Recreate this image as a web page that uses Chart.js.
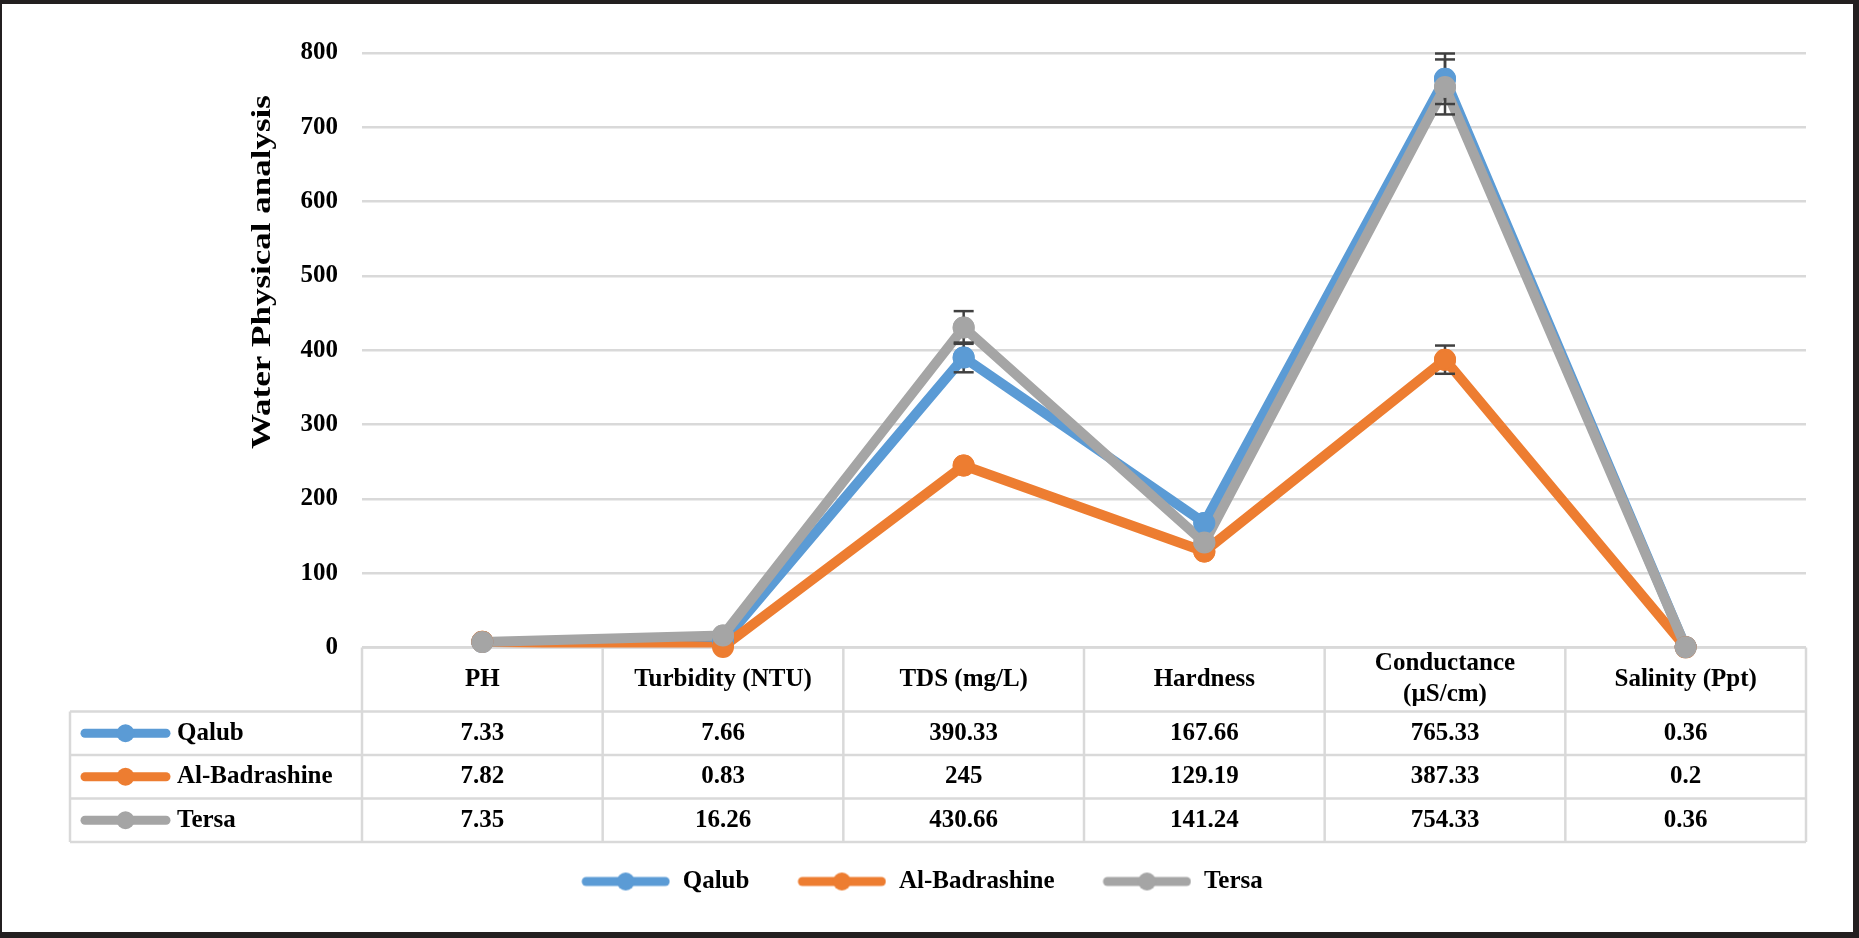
<!DOCTYPE html>
<html>
<head>
<meta charset="utf-8">
<script src="https://cdn.jsdelivr.net/npm/chart.js@4.4.0/dist/chart.umd.min.js"></script>
<style>
    body { margin: 0; background: #fff; }
    canvas { display: block; }
</style>
</head>
<body>
<canvas id="waterChart" width="1859" height="938"></canvas>
<script>
// Categories (x axis) and series values
const categories = ["PH", "Turbidity (NTU)", "TDS (mg/L)", "Hardness", ["Conductance", "(µS/cm)"], "Salinity (Ppt)"];
const seriesNames = ["Qalub", "Al-Badrashine", "Tersa"];
const qalubValues = [7.33, 7.66, 390.33, 167.66, 765.33, 0.36];
const badrashineValues = [7.82, 0.83, 245, 129.19, 387.33, 0.2];
const tersaValues = [7.35, 16.26, 430.66, 141.24, 754.33, 0.36];

// Error bars (+/-); 0 = not visible
const qalubErrors = [0, 0, 20, 0, 34, 0];
const badrashineErrors = [0, 0, 0, 0, 19, 0];
const tersaErrors = [0, 0, 22, 0, 37, 0];

const yTicks = [0, 100, 200, 300, 400, 500, 600, 700, 800];
const yTitle = "Water Physical analysis";

const seriesValues = [qalubValues, badrashineValues, tersaValues];
const seriesErrors = [qalubErrors, badrashineErrors, tersaErrors];
const seriesColors = ["#5B9BD5", "#ED7D31", "#A5A5A5"];

const FONT = '"Times New Roman", "Liberation Serif", serif';
const GRID = "#D9D9D9";

// Little line + dot picture, used as legend key
function makeKey(color, margin) {
    const w = 89, h = 24;
    const c = document.createElement('canvas');
    c.width = w + margin;
    c.height = h;
    const g = c.getContext('2d');
    g.strokeStyle = color;
    g.lineWidth = 9;
    g.lineCap = 'round';
    g.beginPath();
    g.moveTo(margin + 5, h / 2);
    g.lineTo(margin + w - 5, h / 2);
    g.stroke();
    g.fillStyle = color;
    g.beginPath();
    g.arc(margin + w / 2, h / 2, 9, 0, Math.PI * 2);
    g.fill();
    return c;
}

function drawKey(ctx, color, x0, x1, y) {
    ctx.strokeStyle = color;
    ctx.lineWidth = 9;
    ctx.lineCap = 'round';
    ctx.beginPath();
    ctx.moveTo(x0 + 5, y);
    ctx.lineTo(x1 - 5, y);
    ctx.stroke();
    ctx.fillStyle = color;
    ctx.beginPath();
    ctx.arc((x0 + x1) / 2, y, 9, 0, Math.PI * 2);
    ctx.fill();
}

function hLine(ctx, x0, x1, y) {
    ctx.beginPath();
    ctx.moveTo(x0, y);
    ctx.lineTo(x1, y);
    ctx.stroke();
}

function vLine(ctx, x, y0, y1) {
    ctx.beginPath();
    ctx.moveTo(x, y0);
    ctx.lineTo(x, y1);
    ctx.stroke();
}

// Data table under the plot (Excel style)
function drawTable(chart) {
    const ctx = chart.ctx;
    const area = chart.chartArea;
    const xScale = chart.scales.x;
    const colW = (area.right - area.left) / categories.length;
    const headTop = area.bottom;
    const headBottom = headTop + 64;
    const rowH = 43.5;
    const tableLeft = 70;
    const tableBottom = headBottom + rowH * seriesNames.length;

    ctx.save();
    ctx.strokeStyle = GRID;
    ctx.lineWidth = 2.5;
    hLine(ctx, area.left, area.right, headTop);
    for (let r = 0; r <= seriesNames.length; r++) {
        hLine(ctx, tableLeft, area.right, headBottom + r * rowH);
    }
    for (let i = 0; i <= categories.length; i++) {
        vLine(ctx, area.left + i * colW, headTop, tableBottom);
    }
    vLine(ctx, tableLeft, headBottom, tableBottom);

    ctx.fillStyle = '#000';
    ctx.font = 'bold 25px ' + FONT;
    ctx.textAlign = 'center';
    ctx.textBaseline = 'middle';

    // header row = category labels
    const headMid = (headTop + headBottom) / 2;
    categories.forEach((cat, i) => {
        const lines = Array.isArray(cat) ? cat : [cat];
        const cx = xScale.getPixelForValue(i);
        lines.forEach((t, k) => {
            ctx.fillText(t, cx, headMid + (k - (lines.length - 1) / 2) * 31);
        });
    });

    // value rows
    seriesNames.forEach((name, r) => {
        const cy = headBottom + rowH * (r + 0.5);
        drawKey(ctx, seriesColors[r], 80, 171, cy);
        ctx.fillStyle = '#000';
        ctx.textAlign = 'left';
        ctx.fillText(name, 177, cy);
        ctx.textAlign = 'center';
        seriesValues[r].forEach((v, i) => {
            ctx.fillText(String(v), xScale.getPixelForValue(i), cy);
        });
    });
    ctx.restore();
}

function drawYTitle(chart) {
    const ctx = chart.ctx;
    ctx.save();
    ctx.translate(262.5, 272);
    ctx.rotate(-Math.PI / 2);
    ctx.scale(1, 0.8);
    ctx.fillStyle = '#000';
    ctx.font = 'bold 35px ' + FONT;
    ctx.textAlign = 'center';
    ctx.textBaseline = 'middle';
    ctx.fillText(yTitle, 0, 0);
    ctx.restore();
}

function drawErrorBars(chart) {
    const ctx = chart.ctx;
    const xScale = chart.scales.x;
    const yScale = chart.scales.y;
    ctx.save();
    ctx.strokeStyle = '#404040';
    ctx.lineWidth = 2.5;
    seriesValues.forEach((vals, s) => {
        vals.forEach((v, i) => {
            const e = seriesErrors[s][i];
            if (!e) return;
            const x = xScale.getPixelForValue(i);
            const yTop = yScale.getPixelForValue(v + e);
            const yBot = yScale.getPixelForValue(v - e);
            vLine(ctx, x, yTop, yBot);
            hLine(ctx, x - 10, x + 10, yTop);
            hLine(ctx, x - 10, x + 10, yBot);
        });
    });
    ctx.restore();
    // markers sit on top of the bars, last series on top
    for (let s = 0; s < seriesValues.length; s++) {
        chart.getDatasetMeta(s).data.forEach(pt => pt.draw(ctx, chart.chartArea));
    }
}

const tablePlugin = {
    id: 'tablePlugin',
    beforeDraw(chart) {
        const ctx = chart.ctx;
        ctx.save();
        ctx.fillStyle = '#231f20';
        ctx.fillRect(0, 0, chart.width, chart.height);
        ctx.fillStyle = '#fff';
        ctx.fillRect(2, 4, chart.width - 8, chart.height - 10);
        ctx.restore();
    },
    beforeDatasetsDraw(chart) {
        drawTable(chart);
        drawYTitle(chart);
    },
    afterDatasetsDraw(chart) {
        drawErrorBars(chart);
    }
};

const datasets = seriesNames.map((name, i) => ({
    label: name,
    data: seriesValues[i],
    borderColor: seriesColors[i],
    backgroundColor: seriesColors[i],
    pointBackgroundColor: seriesColors[i],
    pointBorderColor: seriesColors[i],
    borderWidth: 10,
    pointRadius: 10,
    pointBorderWidth: 2,
    pointHoverRadius: 10,
    borderJoinStyle: 'round',
    borderCapStyle: 'round',
    tension: 0,
    order: seriesNames.length - i
}));

const legendKeys = seriesColors.map(c => makeKey(c, 38));

new Chart(document.getElementById('waterChart'), {
    type: 'line',
    data: { labels: categories, datasets: datasets },
    options: {
        responsive: false,
        animation: false,
        events: [],
        layout: { padding: { top: 53, right: 53, bottom: 34, left: 0 } },
        scales: {
            x: {
                offset: true,
                ticks: { display: false },
                grid: { display: false, drawTicks: false, offset: true },
                border: { display: false },
                afterFit: (scale) => { scale.height = 211.5; }
            },
            y: {
                min: 0,
                max: 800,
                afterBuildTicks: (scale) => { scale.ticks = yTicks.map(v => ({ value: v })); },
                ticks: {
                    padding: 24,
                    color: '#000',
                    font: { family: FONT, size: 25, weight: 'bold' }
                },
                grid: { color: GRID, lineWidth: 2.5, drawTicks: false },
                border: { display: false },
                afterFit: (scale) => { scale.width = 362; }
            }
        },
        plugins: {
            tooltip: { enabled: false },
            legend: {
                position: 'bottom',
                labels: {
                    usePointStyle: true,
                    pointStyleWidth: 127,
                    padding: 10,
                    color: '#000',
                    font: { family: FONT, size: 25, weight: 'bold' },
                    generateLabels: () => seriesNames.map((name, i) => ({
                        text: name,
                        pointStyle: legendKeys[i],
                        fillStyle: seriesColors[i],
                        strokeStyle: seriesColors[i],
                        lineWidth: 0,
                        hidden: false,
                        datasetIndex: i
                    }))
                }
            }
        }
    },
    plugins: [tablePlugin]
});
</script>
</body>
</html>
